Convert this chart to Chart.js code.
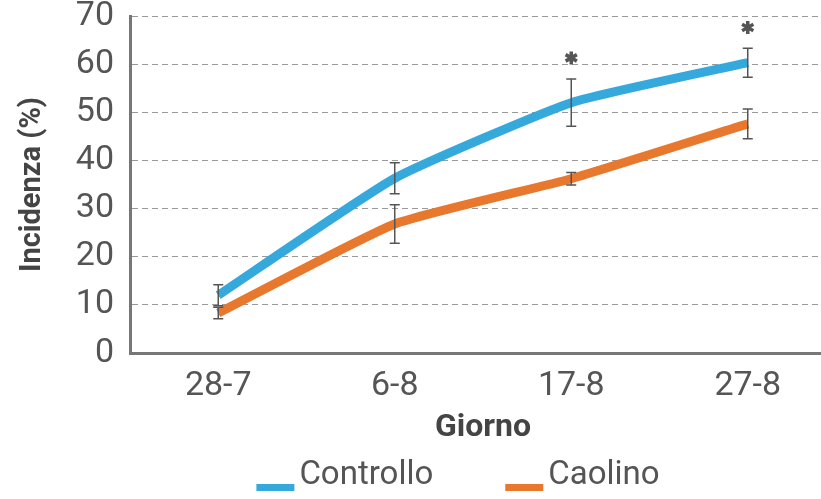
<!DOCTYPE html>
<html>
<head>
<meta charset="utf-8">
<script src="https://cdn.jsdelivr.net/npm/chart.js@4.4.1/dist/chart.umd.min.js"></script>
<style>
  html, body { margin: 0; padding: 0; background: #fff; overflow: hidden; }
  #wrap { position: absolute; left: 0; top: 0; width: 840px; height: 499px; }
</style>
</head>
<body>
<div id="wrap"><canvas id="chart" width="840" height="499"></canvas></div>
<script>
// dati
const categories = ['28-7', '6-8', '17-8', '27-8'];
const controllo = [12, 36.3, 52, 60.3];
const controlloErr = [2.2, 3.2, 4.9, 3];
const caolino = [8.3, 26.8, 36.2, 47.6];
const caolinoErr = [1.2, 4, 1.3, 3.1];
const asterischi = [null, null, 61.3, 67.6];
const yTicks = [0, 10, 20, 30, 40, 50, 60, 70];

const BLUE = '#35a8dc';
const ORANGE = '#e8782d';
const FONT = "Roboto, 'Liberation Sans', sans-serif";

// barre di errore e asterischi
const errorBars = {
    id: 'errorBars',
    afterDatasetsDraw(chart) {
        const ctx = chart.ctx;
        const y = chart.scales.y;
        ctx.save();
        ctx.strokeStyle = '#555';
        ctx.lineWidth = 1.5;
        chart.data.datasets.forEach((ds, di) => {
            const meta = chart.getDatasetMeta(di);
            meta.data.forEach((pt, i) => {
                const v = ds.data[i];
                const e = ds.err[i];
                const top = y.getPixelForValue(v + e);
                const bot = y.getPixelForValue(v - e);
                ctx.beginPath();
                ctx.moveTo(pt.x, top); ctx.lineTo(pt.x, bot);
                ctx.moveTo(pt.x - 5, top); ctx.lineTo(pt.x + 5, top);
                ctx.moveTo(pt.x - 5, bot); ctx.lineTo(pt.x + 5, bot);
                ctx.stroke();
            });
        });
        // asterischi
        const meta0 = chart.getDatasetMeta(0);
        ctx.strokeStyle = '#555';
        ctx.lineWidth = 3.5;
        asterischi.forEach((v, i) => {
            if (v === null) return;
            const cx = meta0.data[i].x;
            const cy = y.getPixelForValue(v);
            ctx.beginPath();
            for (let k = 0; k < 3; k++) {
                const a = Math.PI / 2 + k * Math.PI / 3;
                ctx.moveTo(cx + 6.5 * Math.cos(a), cy + 6.5 * Math.sin(a));
                ctx.lineTo(cx - 6.5 * Math.cos(a), cy - 6.5 * Math.sin(a));
            }
            ctx.stroke();
        });
        ctx.restore();
    }
};

// legenda in basso
const bottomLegend = {
    id: 'bottomLegend',
    afterDraw(chart) {
        const ctx = chart.ctx;
        ctx.save();
        ctx.font = '33px ' + FONT;
        ctx.textBaseline = 'middle';
        const items = chart.data.datasets.map(ds => ({ label: ds.label, color: ds.borderColor, w: ctx.measureText(ds.label).width }));
        const box = 38, gap = 5, between = 72;
        let total = 0;
        items.forEach((it, i) => { total += box + gap + it.w + (i ? between : 0); });
        let x = 458 - total / 2;
        const cy = 476;
        items.forEach(it => {
            ctx.fillStyle = it.color;
            ctx.fillRect(x, cy + 8, box, 7);
            ctx.fillStyle = '#555';
            ctx.fillText(it.label, x + box + gap, cy);
            x += box + gap + it.w + between;
        });
        ctx.restore();
    }
};

new Chart(document.getElementById('chart'), {
    type: 'line',
    data: {
        labels: categories,
        datasets: [
            { label: 'Controllo', data: controllo, err: controlloErr, borderColor: BLUE, backgroundColor: BLUE, borderWidth: 9, pointRadius: 0, tension: 0.15 },
            { label: 'Caolino', data: caolino, err: caolinoErr, borderColor: ORANGE, backgroundColor: ORANGE, borderWidth: 9, pointRadius: 0, tension: 0.15 }
        ]
    },
    options: {
        responsive: false,
        animation: false,
        layout: { padding: { top: 16, right: 4, bottom: 49, left: 0 } },
        plugins: { legend: { display: false }, tooltip: { enabled: false } },
        scales: {
            x: {
                offset: true,
                grid: { display: false, drawTicks: false },
                border: { color: '#777', width: 3 },
                ticks: { color: '#555', font: { family: FONT, size: 34 }, padding: 13 },
                title: { display: true, text: 'Giorno', color: '#444', font: { family: FONT, size: 32, weight: 'bold' }, padding: { top: 0, bottom: 3 } },
                afterFit(scale) { scale.height = 97; scale.paddingLeft = 0; scale.paddingRight = 0; }
            },
            y: {
                min: 0, max: 70,
                afterBuildTicks(scale) { scale.ticks = yTicks.map(v => ({ value: v })); },
                grid: { color: '#9a9a9a', lineWidth: 1, drawTicks: false },
                border: { color: '#777', width: 3, dash: [6, 4] },
                ticks: { color: '#555', font: { family: FONT, size: 34 }, padding: 16 },
                title: { display: true, text: 'Incidenza (%)', color: '#444', font: { family: FONT, size: 29, weight: 'bold' }, padding: { top: 15, bottom: 0 } },
                afterFit(scale) { scale.width = 130; scale.paddingTop = 0; scale.paddingBottom = 0; }
            }
        }
    },
    plugins: [errorBars, bottomLegend]
});
</script>
</body>
</html>
